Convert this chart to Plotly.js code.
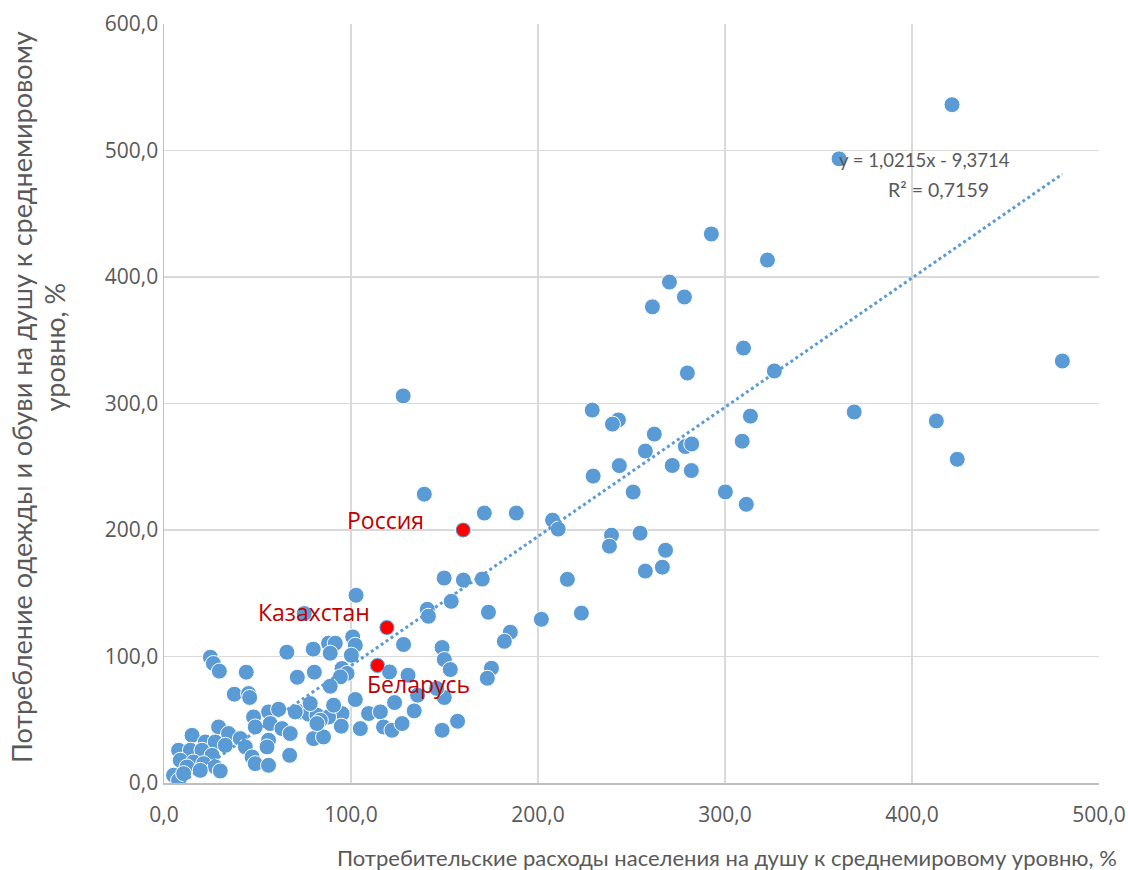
<!DOCTYPE html>
<html>
<head>
<meta charset="utf-8">
<script src="https://cdn.plot.ly/plotly-3.0.1.min.js"></script>
<style>html,body{margin:0;padding:0;background:#fff;}#chart{width:1128px;height:870px;}</style>
</head>
<body>
<div id="chart"></div>
<script>
// Consumer spending per capita vs world average, % (x) and clothing/footwear consumption (y)
const spendX = [421.4,361.0,292.7,322.7,270.3,278.3,261.2,309.9,279.9,480.4,326.4,127.9,229.0,369.1,313.6,243.0,239.8,413.0,262.2,309.2,278.8,282.2,424.2,243.5,271.8,282.0,229.5,139.2,300.2,250.9,311.4,171.3,188.4,160.0,207.8,210.8,254.6,239.3,238.2,268.2,257.4,266.5,215.7,149.8,160.1,170.2,223.2,201.8,173.5,102.7,153.6,140.8,141.4,75.0,119.2,114.2,185.2,182.0,175.1,172.9,257.4,100.9,102.3,128.1,100.2,148.7,149.9,153.1,95.2,97.9,120.6,130.5,135.6,149.9,102.3,123.3,133.8,109.4,115.7,95.2,94.8,105.0,117.4,121.9,127.3,148.7,157.0,145.8,24.8,26.4,29.6,44.0,65.7,79.8,88.0,91.6,88.9,71.3,80.4,94.3,88.9,37.6,45.2,45.8,55.9,61.3,72.9,77.3,81.8,88.0,47.9,48.8,56.8,63.1,67.5,55.9,55.1,80.0,85.3,29.2,34.5,40.8,43.5,15.0,22.1,27.4,32.8,7.8,14.1,20.3,25.7,47.1,48.8,8.7,15.8,21.2,27.4,12.3,19.4,5.1,7.8,10.5,30.1,67.2,55.9,78.2,90.7,83.6,70.2,81.8];
const clothY = [536.2,493.4,434.0,413.4,396.0,384.2,376.4,343.8,324.1,333.6,325.7,306.0,294.8,293.3,290.0,287.0,283.7,286.2,275.8,270.2,266.0,268.0,255.9,250.9,251.0,247.0,242.6,228.3,230.1,230.0,220.3,213.4,213.4,200.0,207.8,200.7,197.5,195.9,187.2,184.0,167.5,170.6,161.0,162.0,160.4,161.2,134.3,129.4,135.0,148.4,143.6,137.3,131.8,134.0,122.9,92.9,119.2,112.0,90.7,82.8,262.4,115.5,108.9,109.5,101.0,107.1,97.6,89.7,90.5,86.6,87.8,85.2,69.4,67.6,66.0,63.6,57.0,54.9,56.2,54.9,44.9,43.0,44.3,41.7,47.0,41.7,48.8,74.8,99.4,94.5,88.4,87.6,103.4,105.8,110.5,110.5,102.6,83.6,87.6,83.9,76.5,70.2,70.7,67.6,56.2,58.3,56.2,54.4,53.6,52.2,52.2,44.3,47.0,43.0,39.1,33.8,28.5,35.1,36.4,44.3,39.1,35.1,28.5,37.7,32.4,32.4,29.8,25.9,25.9,25.9,21.9,20.6,15.3,18.0,16.6,15.3,12.7,12.7,10.0,6.1,2.1,7.4,9.5,21.9,14.0,62.8,61.5,49.6,56.2,47.0];

// Highlighted countries
const hlNames = ['Россия','Казахстан','Беларусь'];
const hlX = [160.0,119.2,114.2];
const hlY = [200.0,122.9,92.9];

// Linear trend shown on the chart
const trendSlope = 1.0215;
const trendIntercept = -9.3714;
const trendLabel = 'y = 1,0215x - 9,3714';
const r2Label = 'R² = 0,7159';

const xTickVals = [0,100,200,300,400,500];
const xTickText = ['0,0','100,0','200,0','300,0','400,0','500,0'];
const yTickVals = [0,100,200,300,400,500,600];
const yTickText = ['0,0','100,0','200,0','300,0','400,0','500,0','600,0'];

const xTitle = 'Потребительские расходы населения на душу к среднемировому уровню, %';
const yTitle1 = 'Потребление одежды и обуви на душу к среднемировому';
const yTitle2 = 'уровню, %';

const minX = Math.min(...spendX), maxX = Math.max(...spendX);
const trendX = [minX, maxX];
const trendY = trendX.map(v => trendSlope*v + trendIntercept);

const FONT = 'Lato, "Open Sans", sans-serif';
const TICKFONT = '"Open Sans", Lato, sans-serif';
const GRAY = '#595959';

const traces = [
  {x: spendX, y: clothY, type:'scatter', mode:'markers',
   marker:{color:'#5b9bd5', size:16, line:{color:'#ffffff', width:1}}, hoverinfo:'x+y'},
  {x: trendX, y: trendY, type:'scatter', mode:'lines',
   line:{color:'#5b9bd5', width:3, dash:'dot'}, hoverinfo:'skip'},
  {x: hlX, y: hlY, type:'scatter', mode:'markers', text: hlNames,
   marker:{color:'#ff0000', size:13}, hoverinfo:'text+x+y'}
];

const ann = [
  {text:'Россия', x:0.2374, y:0.3465, color:'#c00000', size:23, f:TICKFONT},
  {text:'Казахстан', x:0.1604, y:0.2253, color:'#c00000', size:23, f:TICKFONT},
  {text:'Беларусь', x:0.2717, y:0.1304, color:'#c00000', size:23, f:TICKFONT},
  {text:trendLabel, x:0.8139, y:0.8208, color:GRAY, size:18.5},
  {text:r2Label, x:0.8280, y:0.7826, color:GRAY, size:19.5},
  {text:xTitle, x:0.6021, y:-0.0975, color:GRAY, size:22},
  {text:yTitle1, x:-0.1519, y:0.5086, color:GRAY, size:27, angle:-90},
  {text:yTitle2, x:-0.1166, y:0.5750, color:GRAY, size:27, angle:-90}
].map(a => ({text:a.text, x:a.x, y:a.y, xref:'paper', yref:'paper', xanchor:'center', yanchor:'middle',
  showarrow:false, textangle:a.angle||0, font:{family:a.f||FONT, size:a.size, color:a.color}}));

const layout = {
  width:1128, height:870, autosize:false,
  margin:{l:164, r:29, t:24, b:87},
  paper_bgcolor:'#ffffff', plot_bgcolor:'#ffffff',
  showlegend:false,
  font:{family:FONT, color:GRAY},
  xaxis:{range:[0,500], tickvals:xTickVals, ticktext:xTickText, showgrid:true, gridcolor:'#d9d9d9', gridwidth:1.5,
    zeroline:false, showline:true, linecolor:'#bfbfbf', linewidth:1.5, ticks:'', ticklen:0, ticklabelstandoff:12,
    tickfont:{family:TICKFONT, size:21, color:GRAY}},
  yaxis:{range:[0,600], tickvals:yTickVals, ticktext:yTickText, showgrid:true, gridcolor:'#d9d9d9', gridwidth:1.5,
    zeroline:false, showline:true, linecolor:'#bfbfbf', linewidth:1.5, ticks:'', ticklen:0,
    tickfont:{family:TICKFONT, size:21, color:GRAY}},
  annotations: ann
};

Plotly.newPlot('chart', traces, layout, {displayModeBar:false, staticPlot:true});
</script>
</body>
</html>
